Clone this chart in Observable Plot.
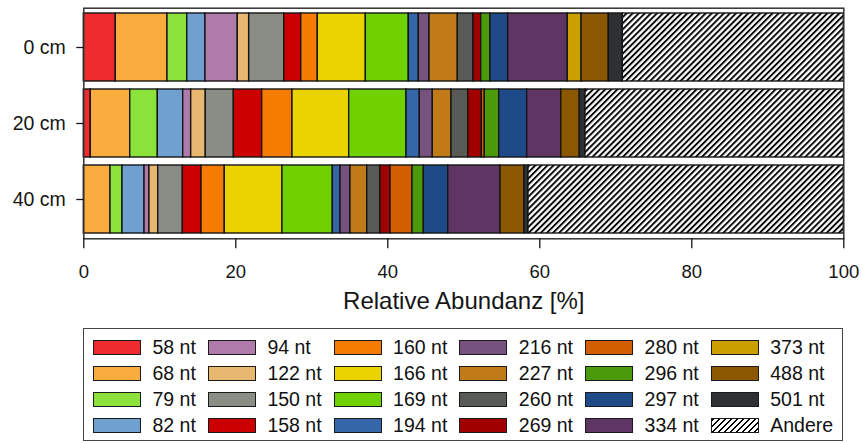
<!DOCTYPE html>
<html>
<head>
<meta charset="utf-8">
<script src="https://cdn.jsdelivr.net/npm/d3@7"></script>
<script src="https://cdn.jsdelivr.net/npm/@observablehq/plot@0.6"></script>
<style>
  body { margin: 0; background: #fff; font-family: "Liberation Sans", Arial, sans-serif; }
  #chart svg { display: block; }
  #legend {
    margin-left: 83px; margin-top: 2px; width: 760px; height: 113px;
    box-sizing: border-box; border: 1.5px solid #444;
    display: grid; grid-auto-flow: column; grid-template-rows: repeat(4, 25.8px);
    grid-auto-columns: max-content; column-gap: 12px;
    padding: 6px 0 0 9px;
  }
  .item { display: flex; align-items: center; font-size: 19.5px; color: #111; }
  .sw { width: 48px; height: 15px; box-sizing: border-box; border: 1.5px solid #1a1a1a; margin-right: 11.5px; }
</style>
</head>
<body>
<div id="chart"></div>
<div id="legend"></div>
<script>
const depths = ["0 cm", "20 cm", "40 cm"];
const sizes = ["58 nt","68 nt","79 nt","82 nt","94 nt","122 nt","150 nt","158 nt","160 nt","166 nt","169 nt","194 nt",
               "216 nt","227 nt","260 nt","269 nt","280 nt","296 nt","297 nt","334 nt","373 nt","488 nt","501 nt","Andere"];
const colors = ["#ef2b2d","#fbac3f","#8be23a","#70a0d0","#ae7baa","#e8b870","#8a8c86","#cc0000","#f57c00","#ebd300","#6fd200","#3466a8",
                "#76527e","#c17a18","#585b55","#a00000","#d45f00","#4a9a0a","#1f4a88","#5e3563","#c9a000","#8b5700","#2d3133","url(#hatch)"];
const share0cm  = [4.21,6.80,2.60,2.40,4.25,1.50,4.61,2.24,2.18,6.32,5.65,1.32,1.41,3.72,2.07,1.01,0,1.22,2.33,7.84,1.81,3.59,1.84,29.08];
const share20cm = [0.92,5.19,3.63,3.34,1.05,1.92,3.69,3.73,3.99,7.46,7.54,1.75,1.71,2.46,2.20,1.79,0.39,1.90,3.68,4.48,0,2.44,0.75,33.99];
const share40cm = [0,3.51,1.58,2.90,0.65,1.15,3.24,2.46,3.06,7.59,6.62,1.02,1.31,2.20,1.74,1.33,2.89,1.49,3.21,6.88,0,3.16,0.52,41.49];
const xTicks = [0, 20, 40, 60, 80, 100];

const shares = [share0cm, share20cm, share40cm];
const rows = [];
depths.forEach((d, i) => sizes.forEach((s, j) => {
  if (shares[i][j] > 0) rows.push({depth: d, size: s, value: shares[i][j]});
}));

const H = 326;
const chart = Plot.plot({
  width: 862, height: H,
  marginLeft: 83.3, marginRight: 18.7, marginTop: 7.7, marginBottom: H - 238.3,
  style: {fontFamily: "Liberation Sans, Arial, sans-serif", color: "#151515", background: "#fff"},
  x: {domain: [0, 100]},
  y: {domain: depths, paddingInner: 0.1, paddingOuter: 0.05},
  color: {domain: sizes, range: colors},
  marks: [
    Plot.barX(rows, Plot.stackX({x: "value", y: "depth", fill: "size", stroke: "#151515", strokeWidth: 1.4})),
    Plot.frame({stroke: "#333", strokeWidth: 1.5}),
    Plot.axisX({ticks: xTicks, tickSize: 10, tickPadding: 16, fontSize: 18.5, strokeWidth: 1.3,
                label: "Relative Abundanz [%]", labelAnchor: "center", labelArrow: "none", labelOffset: 70}),
    Plot.axisY({tickSize: 7, tickPadding: 11, fontSize: 19.5, strokeWidth: 1.3, label: null})
  ]
});
// axis title font size
chart.querySelectorAll("text").forEach(t => { if (t.textContent === "Relative Abundanz [%]") t.setAttribute("font-size", "24px"); });
chart.querySelectorAll("g[aria-label='x-axis label'], g[aria-label='x-axis label'] text").forEach(g => g.setAttribute("font-size", "24px"));

// hatch pattern
const ns = "http://www.w3.org/2000/svg";
const defs = document.createElementNS(ns, "defs");
const pat = document.createElementNS(ns, "pattern");
pat.setAttribute("id", "hatch");
pat.setAttribute("patternUnits", "userSpaceOnUse");
pat.setAttribute("width", "4.3");
pat.setAttribute("height", "10");
pat.setAttribute("patternTransform", "rotate(45)");
const bg = document.createElementNS(ns, "rect");
bg.setAttribute("width", "4.3"); bg.setAttribute("height", "10"); bg.setAttribute("fill", "#fff");
const ln = document.createElementNS(ns, "line");
ln.setAttribute("x1", "1"); ln.setAttribute("x2", "1"); ln.setAttribute("y1", "0"); ln.setAttribute("y2", "10");
ln.setAttribute("stroke", "#000"); ln.setAttribute("stroke-width", "1.9");
pat.appendChild(bg); pat.appendChild(ln); defs.appendChild(pat);
chart.insertBefore(defs, chart.firstChild);
document.getElementById("chart").appendChild(chart);

// legend
const legend = document.getElementById("legend");
sizes.forEach((s, j) => {
  const item = document.createElement("div");
  item.className = "item";
  const sw = document.createElement("span");
  sw.className = "sw";
  if (s === "Andere") sw.style.background = "repeating-linear-gradient(135deg, #000 0 1.5px, #fff 1.5px 4.3px)";
  else sw.style.background = colors[j];
  const lab = document.createElement("span");
  lab.textContent = s;
  item.appendChild(sw); item.appendChild(lab);
  legend.appendChild(item);
});
</script>
</body>
</html>
